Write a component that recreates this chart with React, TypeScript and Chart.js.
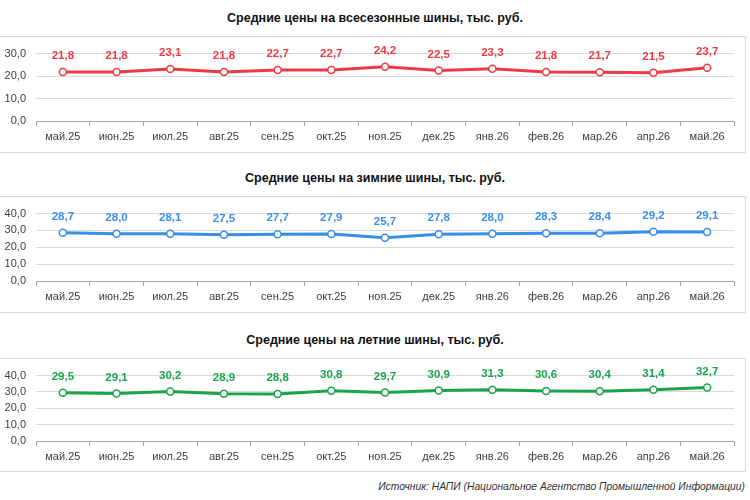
import { useEffect, useRef } from "react"
import { Chart, registerables } from "chart.js"

Chart.register(...registerables)

const months = ["май.25", "июн.25", "июл.25", "авг.25", "сен.25", "окт.25", "ноя.25", "дек.25", "янв.26", "фев.26", "мар.26", "апр.26", "май.26"]
const allSeasonPrices = [21.8, 21.8, 23.1, 21.8, 22.7, 22.7, 24.2, 22.5, 23.3, 21.8, 21.7, 21.5, 23.7]
const winterPrices = [28.7, 28.0, 28.1, 27.5, 27.7, 27.9, 25.7, 27.8, 28.0, 28.3, 28.4, 29.2, 29.1]
const summerPrices = [29.5, 29.1, 30.2, 28.9, 28.8, 30.8, 29.7, 30.9, 31.3, 30.6, 30.4, 31.4, 32.7]

const FONT = "'Liberation Sans', Arial, sans-serif"

const fmt = (v: number) => v.toFixed(1).replace(".", ",")

// draws the value above every point, like Excel data labels
const valueLabels = {
  id: "valueLabels",
  afterDatasetsDraw(chart: any) {
    const ctx = chart.ctx
    chart.data.datasets.forEach((ds: any, i: number) => {
      const meta = chart.getDatasetMeta(i)
      ctx.save()
      ctx.font = `bold 11.5px ${FONT}`
      ctx.fillStyle = ds.borderColor
      ctx.textAlign = "center"
      ctx.textBaseline = "middle"
      meta.data.forEach((pt: any, j: number) => {
        ctx.fillText(fmt(ds.data[j]), pt.x, pt.y - 16)
      })
      ctx.restore()
    })
  },
}

type PanelProps = {
  title: string
  values: number[]
  color: string
  yMax: number
  top: number
  height: number
  padTop: number
  xAxisHeight: number
}

function PricePanel({ title, values, color, yMax, top, height, padTop, xAxisHeight }: PanelProps) {
  const canvasRef = useRef<HTMLCanvasElement>(null)

  useEffect(() => {
    if (!canvasRef.current) return
    const chart = new Chart(canvasRef.current, {
      type: "line",
      data: {
        labels: months,
        datasets: [
          {
            data: values,
            borderColor: color,
            borderWidth: 3,
            pointRadius: 3.5,
            pointBackgroundColor: "#ffffff",
            pointBorderColor: color,
            pointBorderWidth: 1.5,
            tension: 0,
          },
        ],
      },
      options: {
        animation: false,
        responsive: true,
        maintainAspectRatio: false,
        layout: { padding: { top: padTop, right: 12, left: 0, bottom: 0 } },
        plugins: {
          legend: { display: false },
          tooltip: { enabled: false },
        },
        scales: {
          x: {
            offset: true,
            afterFit: (scale: any) => {
              scale.height = xAxisHeight
            },
            grid: {
              offset: true,
              drawOnChartArea: false,
              tickLength: 5,
              color: "#a6a6a6",
            },
            border: { color: "#a6a6a6" },
            ticks: {
              padding: 4,
              maxRotation: 0,
              autoSkip: false,
              color: "#404040",
              font: { family: FONT, size: 11 },
            },
          },
          y: {
            min: 0,
            max: yMax,
            afterFit: (scale: any) => {
              scale.width = 35
            },
            grid: { color: "#d9d9d9", drawTicks: false },
            border: { display: false },
            ticks: {
              stepSize: 10,
              padding: 10,
              color: "#404040",
              font: { family: FONT, size: 11 },
              callback: (v: any) => fmt(Number(v)),
            },
          },
        },
      },
      plugins: [valueLabels],
    })
    return () => chart.destroy()
  }, [])

  return (
    <>
      <div
        style={{
          position: "absolute",
          left: 0,
          width: 750,
          top: top - 25,
          textAlign: "center",
          font: `bold 12.5px ${FONT}`,
          color: "#111",
        }}
      >
        {title}
      </div>
      <div
        style={{
          position: "absolute",
          left: -2,
          top,
          width: 748,
          height,
          boxSizing: "border-box",
          border: "1px solid #d9d9d9",
        }}
      >
        <div style={{ position: "absolute", left: 2, top: 0, width: 745, height: height - 2 }}>
          <canvas ref={canvasRef} />
        </div>
      </div>
    </>
  )
}

export default function App() {
  return (
    <div style={{ position: "fixed", left: 0, top: 0, width: 750, height: 500, background: "#fff", overflow: "hidden" }}>
      <PricePanel
        title="Средние цены на всесезонные шины, тыс. руб."
        values={allSeasonPrices}
        color="#ee3b45"
        yMax={30}
        top={36}
        height={117}
        padTop={13}
        xAxisHeight={31}
      />
      <PricePanel
        title="Средние цены на зимние шины, тыс. руб."
        values={winterPrices}
        color="#3a8fe8"
        yMax={40}
        top={196}
        height={117}
        padTop={14}
        xAxisHeight={31}
      />
      <PricePanel
        title="Средние цены на летние шины, тыс. руб."
        values={summerPrices}
        color="#1ca44c"
        yMax={40}
        top={358}
        height={114}
        padTop={13}
        xAxisHeight={30}
      />
      <div
        style={{
          position: "absolute",
          right: 5,
          top: 481,
          font: `italic 10.3px ${FONT}`,
          color: "#333",
          whiteSpace: "nowrap",
        }}
      >
        Источник: НАПИ (Национальное Агентство Промышленной Информации)
      </div>
    </div>
  )
}
